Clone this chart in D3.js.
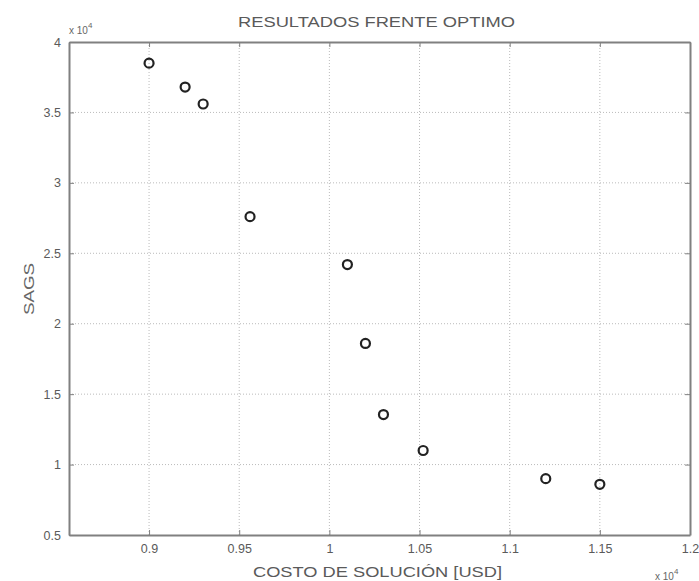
<!DOCTYPE html>
<html>
<head>
<meta charset="utf-8">
<script src="https://cdn.jsdelivr.net/npm/d3@7"></script>
<style>
body { margin: 0; background: #fff; }
svg { font-family: "Liberation Sans", Arial, sans-serif; }
.grid line { stroke: #bbb; stroke-dasharray: 1,2; }
.axis path, .axis line { stroke: #808080; }
.axis text { fill: #5a5a5a; font-size: 12.5px; }
</style>
</head>
<body>
<div class="chart"></div>
<script>
// costo (x 10^4 USD) vs SAGS (x 10^4)
var costo = [0.9, 0.92, 0.93, 0.956, 1.01, 1.02, 1.03, 1.052, 1.12, 1.15];
var sags = [3.85, 3.68, 3.56, 2.76, 2.42, 1.86, 1.355, 1.10, 0.90, 0.86];
var xTicks = [0.9, 0.95, 1, 1.05, 1.1, 1.15, 1.2];
var yTicks = [0.5, 1, 1.5, 2, 2.5, 3, 3.5, 4];

var marg = { t: 42, r: 9, b: 46, l: 69 };
var wid = 699 - marg.l - marg.r;
var hei = 581 - marg.t - marg.b;

var svg = d3.select(".chart")
    .append("svg")
    .attr("width", 699)
    .attr("height", 581);

var g = svg.append("g")
    .attr("transform", "translate(" + marg.l + "," + marg.t + ")");

var xscale = d3.scaleLinear()
    .domain([0.8556, 1.2])
    .range([0, wid]);

var yscale = d3.scaleLinear()
    .domain([0.5, 4])
    .range([hei, 0]);

var fmt = function(d) { return String(d); };

// grid
g.append("g")
    .attr("class", "grid")
    .selectAll("line.v")
    .data(xTicks.slice(0, -1))
    .enter().append("line")
    .attr("x1", xscale).attr("x2", xscale)
    .attr("y1", 0).attr("y2", hei);

g.append("g")
    .attr("class", "grid")
    .selectAll("line.h")
    .data(yTicks.slice(1, -1))
    .enter().append("line")
    .attr("y1", yscale).attr("y2", yscale)
    .attr("x1", 0).attr("x2", wid);

// axes, ticks pointing inward like matlab
g.append("g")
    .attr("class", "x axis")
    .attr("transform", "translate(0," + hei + ")")
    .call(d3.axisBottom(xscale).tickValues(xTicks).tickFormat(fmt).tickSizeInner(-5).tickSizeOuter(0).tickPadding(9));

g.append("g")
    .attr("class", "x axis")
    .call(d3.axisTop(xscale).tickValues(xTicks).tickFormat("").tickSizeInner(-5).tickSizeOuter(0));

g.append("g")
    .attr("class", "y axis")
    .call(d3.axisLeft(yscale).tickValues(yTicks).tickFormat(fmt).tickSizeInner(-5).tickSizeOuter(0).tickPadding(8));

g.append("g")
    .attr("class", "y axis")
    .attr("transform", "translate(" + wid + ",0)")
    .call(d3.axisRight(yscale).tickValues(yTicks).tickFormat("").tickSizeInner(-5).tickSizeOuter(0));

g.selectAll(".axis path").style("stroke-width", 2);

// points
g.selectAll("circle.pt")
    .data(costo)
    .enter().append("circle")
    .attr("class", "pt")
    .attr("cx", function(d) { return xscale(d); })
    .attr("cy", function(d, i) { return yscale(sags[i]); })
    .attr("r", 4.5)
    .style("fill", "none")
    .style("stroke", "#222")
    .style("stroke-width", 2.2);

// texts
svg.append("text")
    .attr("x", 238)
    .attr("y", 27)
    .attr("textLength", 277)
    .attr("lengthAdjust", "spacingAndGlyphs")
    .style("font-size", "14px")
    .style("fill", "#5a5a5a")
    .text("RESULTADOS FRENTE OPTIMO");

svg.append("text")
    .attr("transform", "translate(34,315) rotate(-90)")
    .attr("textLength", 52)
    .attr("lengthAdjust", "spacingAndGlyphs")
    .style("font-size", "14px")
    .style("fill", "#666")
    .text("SAGS");

svg.append("text")
    .attr("x", 253)
    .attr("y", 577)
    .attr("textLength", 249)
    .attr("lengthAdjust", "spacingAndGlyphs")
    .style("font-size", "14.5px")
    .style("fill", "#5a5a5a")
    .text("COSTO DE SOLUCIÓN [USD]");

function expo(x, y) {
    var t = svg.append("text")
        .attr("x", x)
        .attr("y", y)
        .style("fill", "#666")
        .style("font-size", "10px");
    t.append("tspan").text("x 10");
    t.append("tspan").attr("dy", -6).style("font-size", "8px").text("4");
}
expo(69, 34);
expo(655, 580);
</script>
</body>
</html>
